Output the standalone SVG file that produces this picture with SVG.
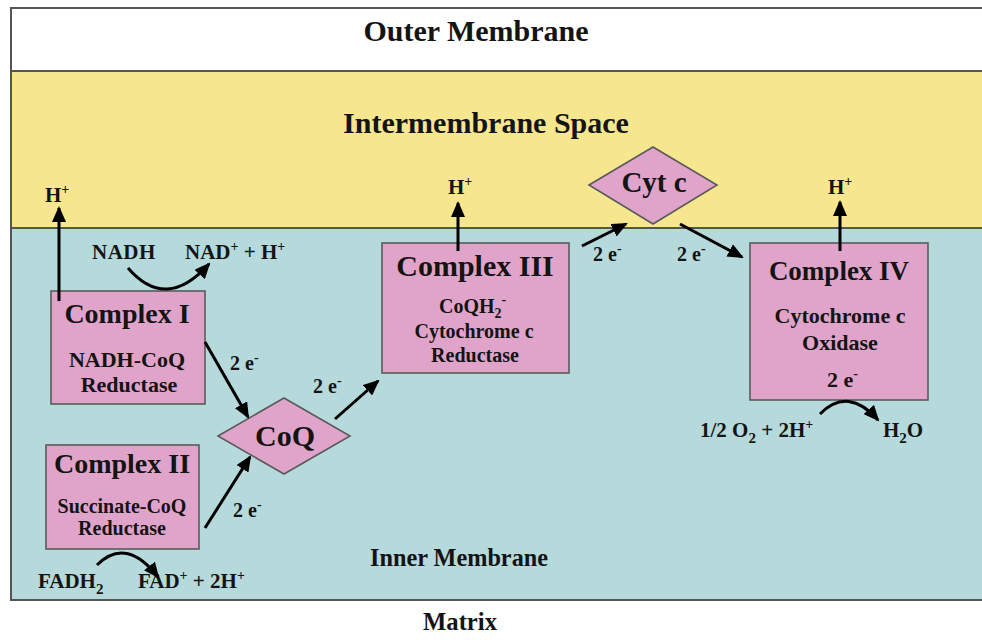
<svg xmlns="http://www.w3.org/2000/svg" width="982" height="640" viewBox="0 0 982 640">
<defs>
<marker id="ah" markerUnits="userSpaceOnUse" markerWidth="16" markerHeight="14" refX="14" refY="7" orient="auto">
<path d="M0,0 L16,7 L0,14 z" fill="#000"/>
</marker>
<style>
text{font-family:"Liberation Serif","Times New Roman",serif;font-weight:bold;fill:#141414}
.box{fill:#E0A4CA;stroke:#5a5a5a;stroke-width:1.6}
.conn{stroke:#000;stroke-width:3;fill:none;marker-end:url(#ah)}
.band{stroke:none}
.sep{stroke:#555;stroke-width:2}
.big{font-size:30px}
.mid{text-anchor:middle}
</style>
</defs>
<rect width="982" height="640" fill="#fff"/>
<g id="bands">
<rect class="band" x="11" y="8" width="971" height="63" fill="#ffffff"/>
<rect class="band" x="11" y="71" width="971" height="157" fill="#F6E78F"/>
<rect class="band" x="11" y="228" width="971" height="372" fill="#B6D9DB"/>
<line class="sep" x1="11" y1="8" x2="982" y2="8"/>
<line class="sep" x1="11" y1="71" x2="982" y2="71"/>
<line class="sep" x1="11" y1="228" x2="982" y2="228"/>
<line class="sep" x1="11" y1="600" x2="982" y2="600"/>
<line class="sep" x1="11" y1="7" x2="11" y2="601"/>
<text class="big mid" x="476" y="41">Outer Membrane</text>
<text class="big mid" x="486" y="133">Intermembrane Space</text>
<text class="mid" x="459" y="566" font-size="26" textLength="178" lengthAdjust="spacingAndGlyphs">Inner Membrane</text>
<text class="mid" x="460" y="630" font-size="25" textLength="74" lengthAdjust="spacingAndGlyphs">Matrix</text>
</g>
<g id="complex1">
<rect class="box" x="51" y="291" width="154" height="113"/>
<text class="mid" x="127" y="323" font-size="28">Complex I</text>
<text class="mid" x="127" y="367" font-size="22">NADH-CoQ</text>
<text class="mid" x="129" y="392" font-size="22">Reductase</text>
</g>
<g id="complex2">
<rect class="box" x="46" y="445" width="153" height="104"/>
<text class="mid" x="122" y="473" font-size="28">Complex II</text>
<text class="mid" x="122" y="513" font-size="20">Succinate-CoQ</text>
<text class="mid" x="122" y="535" font-size="20">Reductase</text>
</g>
<g id="coq">
<polygon class="box" points="218,436 284,398 350,436 284,474"/>
<text class="mid" x="285" y="446" font-size="30">CoQ</text>
</g>
<g id="complex3">
<rect class="box" x="382" y="243" width="187" height="130"/>
<text class="mid" x="475" y="276" font-size="30">Complex III</text>
<text x="439" y="313" font-size="20">CoQH<tspan font-size="14" dy="5">2</tspan><tspan font-size="14" dy="-14">-</tspan></text>
<text class="mid" x="474" y="338" font-size="20">Cytochrome c</text>
<text class="mid" x="475" y="362" font-size="20">Reductase</text>
</g>
<g id="cytc">
<polygon class="box" points="589,185 653,147 717,185 653,224"/>
<text class="mid" x="654" y="192" font-size="29">Cyt c</text>
</g>
<g id="complex4">
<rect class="box" x="750" y="243" width="178" height="157"/>
<text class="mid" x="839" y="280" font-size="27">Complex IV</text>
<text class="mid" x="840" y="323" font-size="22">Cytochrome c</text>
<text class="mid" x="840" y="350" font-size="22">Oxidase</text>
<text x="827" y="387" font-size="22">2 e<tspan font-size="14" dy="-9">-</tspan></text>
</g>
<g id="labels">
<text x="45" y="202" font-size="21">H<tspan font-size="14" dy="-8">+</tspan></text>
<text x="448" y="194" font-size="21">H<tspan font-size="14" dy="-8">+</tspan></text>
<text x="828" y="194" font-size="21">H<tspan font-size="14" dy="-8">+</tspan></text>
<text x="92" y="259" font-size="21" letter-spacing="0.5">NADH</text>
<text x="185" y="259" font-size="21">NAD<tspan font-size="14" dy="-8">+</tspan><tspan dy="8"> + H</tspan><tspan font-size="14" dy="-8">+</tspan></text>
<text x="230" y="370" font-size="20">2 e<tspan font-size="14" dy="-8">-</tspan></text>
<text x="313" y="393" font-size="20">2 e<tspan font-size="14" dy="-8">-</tspan></text>
<text x="233" y="517" font-size="20">2 e<tspan font-size="14" dy="-8">-</tspan></text>
<text x="593" y="261" font-size="20">2 e<tspan font-size="14" dy="-8">-</tspan></text>
<text x="677" y="261" font-size="20">2 e<tspan font-size="14" dy="-8">-</tspan></text>
<text x="38" y="588" font-size="21">FADH<tspan font-size="15" dy="6">2</tspan></text>
<text x="138" y="588" font-size="21">FAD<tspan font-size="14" dy="-8">+</tspan><tspan dy="8"> + 2H</tspan><tspan font-size="14" dy="-8">+</tspan></text>
<text x="700" y="437" font-size="21">1/2 O<tspan font-size="15" dy="6">2</tspan><tspan dy="-6"> + 2H</tspan><tspan font-size="14" dy="-8">+</tspan></text>
<text x="883" y="437" font-size="21">H<tspan font-size="15" dy="6">2</tspan><tspan dy="-6">O</tspan></text>
</g>
<g id="connectors">
<line class="conn" x1="59" y1="301" x2="59" y2="208"/>
<line class="conn" x1="458" y1="251" x2="458" y2="203"/>
<line class="conn" x1="840" y1="251" x2="840" y2="202"/>
<path class="conn" d="M128,268 Q166,312 209,264"/>
<line class="conn" x1="205" y1="342" x2="248" y2="417"/>
<line class="conn" x1="205" y1="528" x2="250" y2="457"/>
<line class="conn" x1="335" y1="419" x2="378" y2="381"/>
<line class="conn" x1="582" y1="246" x2="626" y2="224"/>
<line class="conn" x1="680" y1="224" x2="742" y2="257"/>
<path class="conn" d="M97,565 Q126,536 158,577"/>
<path class="conn" d="M820,414 Q848,386 878,420"/>
</g>
</svg>
